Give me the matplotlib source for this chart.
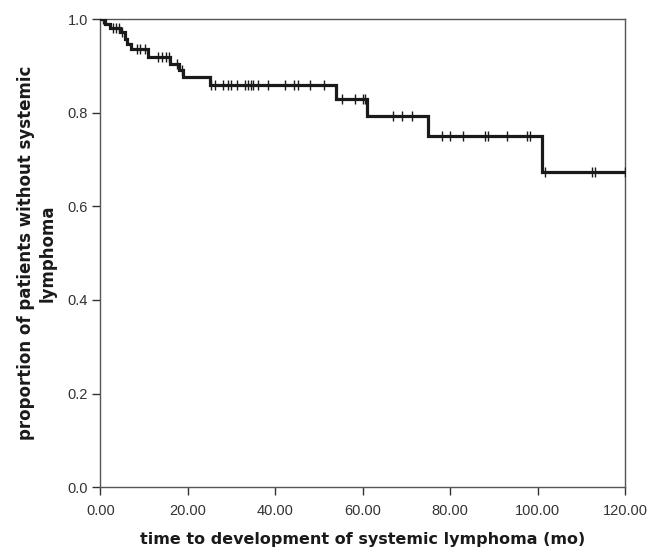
import matplotlib
matplotlib.use("Agg")
import matplotlib.pyplot as plt
import numpy as np

# Kaplan-Meier step data (time of event, survival after event)
event_times = [1.0, 2.2, 4.5, 5.7, 6.2, 7.0, 11.0, 16.0, 18.0, 19.0, 25.0, 54.0, 61.0, 75.0, 101.0]
surv_after = [0.989, 0.981, 0.972, 0.958, 0.947, 0.937, 0.919, 0.905, 0.891, 0.877, 0.859, 0.829, 0.793, 0.750, 0.673]

# censored observation times
censor_times = [0.5, 2.8, 3.6, 4.2, 5.0, 8.3, 9.0, 10.2, 13.2, 14.0, 15.1, 15.6, 17.5, 18.6,
                25.4, 26.2, 28.1, 29.2, 30.0, 31.2, 33.1, 33.8, 34.4, 35.0, 36.1, 38.3,
                42.2, 44.3, 45.1, 47.9, 51.1, 55.2, 58.2, 60.1, 60.5, 67.0, 69.1, 71.2,
                78.1, 80.0, 83.0, 88.0, 88.7, 93.1, 97.5, 98.3, 101.7, 112.4, 113.2, 120.0]

x_ticks = [0, 20, 40, 60, 80, 100, 120]
y_ticks = [0.0, 0.2, 0.4, 0.6, 0.8, 1.0]

xlabel = "time to development of systemic lymphoma (mo)"
ylabel = "proportion of patients without systemic\nlymphoma"

fig = plt.figure(figsize=(6.6, 5.48), dpi=100)
ax = fig.add_axes([0.152, 0.111, 0.795, 0.854])

t_step = [0.0] + event_times + [120.0]
s_step = [1.0] + surv_after + [surv_after[-1]]
ax.step(t_step, s_step, where="post", color="#1a1a1a", lw=2.3, solid_joinstyle="miter", zorder=3)

def surv_at(t):
    s = 1.0
    for et, sv in zip(event_times, surv_after):
        if t >= et:
            s = sv
    return s

cy = [surv_at(t) for t in censor_times]
ax.plot(censor_times, cy, linestyle="none", marker="|", markersize=7, mew=1.0, color="#1a1a1a", zorder=4)

ax.set_xlim(0, 120)
ax.set_ylim(0, 1.0)
ax.set_xticks(x_ticks)
ax.set_xticklabels([f"{v:.2f}" for v in x_ticks])
ax.set_yticks(y_ticks)
ax.set_yticklabels([f"{v:.1f}" for v in y_ticks])
ax.tick_params(direction="out", length=6, width=1, color="#333333", labelsize=10.5, labelcolor="#333333")
ax.tick_params(axis="x", pad=6)
ax.tick_params(axis="y", pad=3)
for lab in ax.get_xticklabels() + ax.get_yticklabels():
    lab.set_family("Liberation Sans")
for sp in ax.spines.values():
    sp.set_color("#555555")
    sp.set_linewidth(1.0)

ax.set_xlabel(xlabel, fontsize=11.5, fontweight="bold", family="DejaVu Sans", labelpad=10, color="#1a1a1a")
ax.set_ylabel(ylabel, fontsize=12, fontweight="bold", family="DejaVu Sans", labelpad=8, color="#1a1a1a",
              ha="center", multialignment="center")

fig.savefig("out.png", dpi=100)
